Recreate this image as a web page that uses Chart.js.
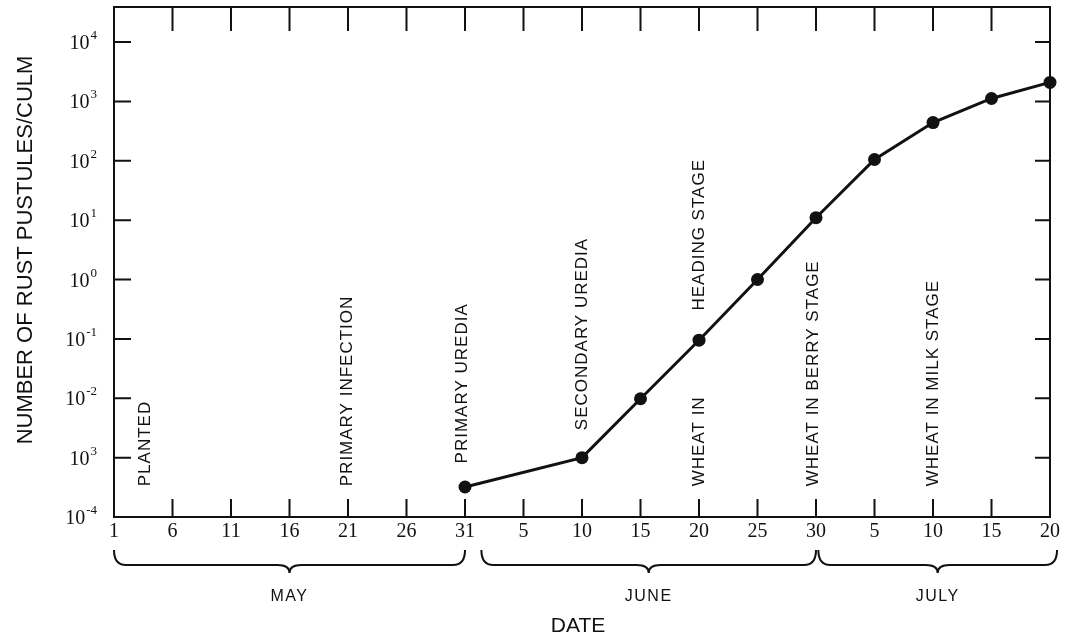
<!DOCTYPE html>
<html>
<head>
<meta charset="utf-8">
<script src="https://cdn.jsdelivr.net/npm/chart.js@4.4.1/dist/chart.umd.min.js"></script>
<style>
  html, body { margin: 0; padding: 0; background: #fff; }
  #wrap { width: 1066px; height: 639px; }
</style>
</head>
<body>
<div id="wrap"><canvas id="rustChart"></canvas></div>
<script>
// ── Dados (dias contados a partir de 1 de maio = 0) ──
const days = [30, 40, 45, 50, 55, 60, 65, 70, 75, 80];
const pustules = [3.2e-4, 1.0e-3, 9.8e-3, 0.095, 1.0, 11, 105, 440, 1120, 2090];

const xTickDays = [0, 5, 10, 15, 20, 25, 30, 35, 40, 45, 50, 55, 60, 65, 70, 75, 80];
const xTickLabels = ["1", "6", "11", "16", "21", "26", "31", "5", "10", "15", "20", "25", "30", "5", "10", "15", "20"];

const yTickValues = [1e-4, 1e-3, 1e-2, 1e-1, 1, 10, 100, 1000, 10000];
const yTickExponents = ["-4", "3", "-2", "-1", "0", "1", "2", "3", "4"];

const months = ["MAY", "JUNE", "JULY"];
const monthFrom = [0, 31.4, 60.2];
const monthTo = [30, 60, 80.6];

const stageTexts = ["PLANTED", "PRIMARY INFECTION", "PRIMARY UREDIA", "SECONDARY UREDIA",
  "WHEAT IN", "HEADING STAGE", "WHEAT IN BERRY STAGE", "WHEAT IN MILK STAGE"];
const stageDays = [2.7, 19.9, 29.8, 40, 50, 50, 59.8, 70];
const stageBase = [3.3e-4, 3.3e-4, 8e-4, 2.9e-3, 3.3e-4, 0.3, 3.3e-4, 3.3e-4];

const INK = "#111";
const SANS = "'Liberation Sans', sans-serif";
const SERIF = "'Liberation Serif', serif";

// ── Moldura, ticks internos, chaves dos meses e rótulos ──
const extrasPlugin = {
  id: "extras",
  afterDraw(chart) {
    const ctx = chart.ctx;
    const { left, right, top, bottom } = chart.chartArea;
    const xs = chart.scales.x;
    const ys = chart.scales.y;

    ctx.save();
    ctx.strokeStyle = INK;
    ctx.fillStyle = INK;

    // moldura
    ctx.lineWidth = 2;
    ctx.strokeRect(left, top, right - left, bottom - top);

    // ticks para dentro
    ctx.beginPath();
    xTickDays.forEach((d) => {
      const px = xs.getPixelForValue(d);
      ctx.moveTo(px, bottom);
      ctx.lineTo(px, bottom - 18);
      ctx.moveTo(px, top);
      ctx.lineTo(px, top + 24);
    });
    yTickValues.forEach((v) => {
      const py = ys.getPixelForValue(v);
      ctx.moveTo(left, py);
      ctx.lineTo(left + 17, py);
      ctx.moveTo(right, py);
      ctx.lineTo(right - 15, py);
    });
    ctx.stroke();

    // rótulos do eixo y: 10 com expoente sobrescrito
    ctx.textBaseline = "alphabetic";
    ctx.textAlign = "left";
    yTickValues.forEach((v, i) => {
      const py = ys.getPixelForValue(v);
      const exp = yTickExponents[i];
      ctx.font = "13px " + SERIF;
      const ew = ctx.measureText(exp).width;
      const ex = left - 17 - ew;
      ctx.fillText(exp, ex, py - 3);
      ctx.font = "20px " + SERIF;
      ctx.textAlign = "right";
      ctx.fillText("10", ex - 1, py + 7);
      ctx.textAlign = "left";
    });

    // chaves dos meses
    const y0 = bottom + 33, y1 = bottom + 48, tip = bottom + 56;
    ctx.font = "16px " + SANS;
    ctx.letterSpacing = "1.5px";
    ctx.textAlign = "center";
    ctx.textBaseline = "middle";
    months.forEach((m, i) => {
      const x1 = xs.getPixelForValue(monthFrom[i]);
      const x2 = xs.getPixelForValue(monthTo[i]);
      const mid = (x1 + x2) / 2;
      ctx.beginPath();
      ctx.moveTo(x1, y0);
      ctx.quadraticCurveTo(x1, y1, x1 + 12, y1);
      ctx.lineTo(mid - 12, y1);
      ctx.quadraticCurveTo(mid, y1, mid, tip);
      ctx.quadraticCurveTo(mid, y1, mid + 12, y1);
      ctx.lineTo(x2 - 12, y1);
      ctx.quadraticCurveTo(x2, y1, x2, y0);
      ctx.stroke();
      ctx.fillText(m, mid, bottom + 80);
    });

    // títulos dos eixos
    ctx.letterSpacing = "0px";
    ctx.font = "21px " + SANS;
    ctx.fillText("DATE", 578, bottom + 109);
    ctx.save();
    ctx.translate(26, 250);
    ctx.rotate(-Math.PI / 2);
    ctx.font = "22px " + SANS;
    ctx.fillText("NUMBER OF RUST PUSTULES/CULM", 0, 0);
    ctx.restore();

    // estágios (texto vertical)
    ctx.font = "17px " + SANS;
    ctx.letterSpacing = "1px";
    ctx.textAlign = "left";
    stageTexts.forEach((t, i) => {
      const px = xs.getPixelForValue(stageDays[i]);
      const py = ys.getPixelForValue(stageBase[i]);
      ctx.save();
      ctx.translate(px, py);
      ctx.rotate(-Math.PI / 2);
      ctx.fillText(t, 0, 0);
      ctx.restore();
    });

    ctx.restore();
  },
};

new Chart(document.getElementById("rustChart"), {
  type: "line",
  data: {
    datasets: [
      {
        data: days.map((d, i) => ({ x: d, y: pustules[i] })),
        borderColor: INK,
        backgroundColor: INK,
        borderWidth: 3,
        pointRadius: 6.5,
        pointBackgroundColor: INK,
        pointBorderWidth: 0,
        tension: 0,
        clip: false,
      },
    ],
  },
  options: {
    responsive: true,
    maintainAspectRatio: false,
    animation: false,
    layout: { padding: { left: 0, right: 16, top: 7, bottom: 0 } },
    plugins: { legend: { display: false }, tooltip: { enabled: false } },
    scales: {
      x: {
        type: "linear",
        min: 0,
        max: 80,
        afterBuildTicks: (s) => { s.ticks = xTickDays.map((v) => ({ value: v })); },
        afterFit: (s) => { s.height = 122; s.paddingLeft = 0; s.paddingRight = 0; },
        grid: { display: false, drawTicks: false },
        border: { display: false },
        ticks: {
          padding: 3,
          color: INK,
          font: { family: SERIF, size: 20 },
          maxRotation: 0,
          autoSkip: false,
          callback: (v) => xTickLabels[xTickDays.indexOf(v)],
        },
      },
      y: {
        type: "logarithmic",
        min: 1e-4,
        max: Math.pow(10, 4.59),
        afterBuildTicks: (s) => { s.ticks = yTickValues.map((v) => ({ value: v })); },
        afterFit: (s) => { s.width = 114; s.paddingTop = 0; s.paddingBottom = 0; },
        grid: { display: false, drawTicks: false },
        border: { display: false },
        ticks: { display: false },
      },
    },
  },
  plugins: [extrasPlugin],
});
</script>
</body>
</html>
